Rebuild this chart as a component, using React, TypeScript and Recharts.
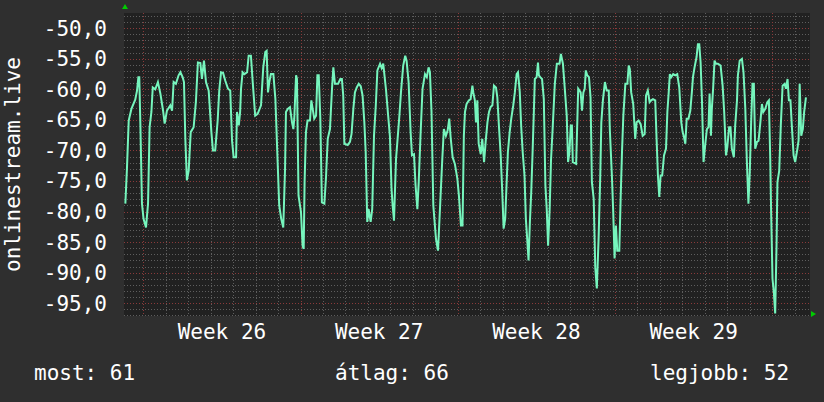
import React from 'react';
import { LineChart, Line, XAxis, YAxis, CartesianGrid, Label } from 'recharts';

// x = days since the start of week 26, y = signal level
const WEEK_LABELS = ['Week 26', 'Week 27', 'Week 28', 'Week 29'];
const WEEK_MIDS = [3.5, 10.5, 17.5, 24.5];
const WEEK_STARTS = [0, 7, 14, 21, 28];
const Y_TICKS = [-50, -55, -60, -65, -70, -75, -80, -85, -90, -95];
const X_DOMAIN: [number, number] = [-0.86, 29.68];
const Y_DOMAIN: [number, number] = [-97.1, -47.5];
const AXIS_TITLE = 'onlinestream.live';

const STATS = [
  { label: 'most', value: 61 },
  { label: 'átlag', value: 66 },
  { label: 'legjobb', value: 52 },
];

const week25Tail: [number, number][] = [
  [-0.8, -78.7], [-0.73, -73.1], [-0.65, -65.1], [-0.53, -63.2], [-0.36, -61.7], [-0.28, -60.2],
  [-0.22, -58.0], [-0.18, -58.0], [-0.13, -65.9], [-0.06, -78.7],
];

const week26: [number, number][] = [
  [0.01, -81.2], [0.12, -82.6], [0.21, -78.7], [0.28, -66.2], [0.36, -63.7], [0.42, -59.7],
  [0.53, -60.0], [0.65, -58.8], [0.76, -60.7], [0.88, -63.5], [0.95, -65.6], [1.05, -63.5],
  [1.2, -62.6], [1.28, -63.5], [1.35, -58.8], [1.45, -59.1], [1.57, -57.7], [1.65, -57.2],
  [1.75, -58.0], [1.81, -58.8], [1.87, -68.1], [1.94, -74.9], [2.02, -73.3], [2.11, -67.0],
  [2.24, -66.2], [2.34, -62.1], [2.43, -55.6], [2.54, -55.7], [2.61, -58.3], [2.7, -55.3],
  [2.79, -58.8], [2.91, -60.2], [3.03, -67.0], [3.1, -70.0], [3.2, -70.0], [3.31, -65.1],
  [3.38, -60.2], [3.46, -57.2], [3.55, -57.3], [3.65, -58.6], [3.77, -59.9], [3.87, -60.2],
  [3.95, -68.4], [4.02, -71.1], [4.13, -71.1], [4.17, -63.7], [4.25, -65.9], [4.31, -63.7],
  [4.35, -59.9], [4.42, -57.2], [4.5, -57.5], [4.62, -57.2], [4.69, -54.5], [4.79, -54.5],
  [4.87, -58.8], [4.98, -64.3], [5.09, -64.0], [5.24, -62.6], [5.34, -56.4], [5.43, -53.9],
  [5.49, -53.7], [5.55, -60.5], [5.61, -58.8], [5.68, -57.5], [5.79, -57.5], [5.88, -61.6],
  [5.98, -71.9], [6.05, -79.0], [6.14, -81.2], [6.23, -82.6], [6.31, -73.0], [6.35, -63.7],
  [6.43, -63.2], [6.53, -62.9], [6.62, -65.4], [6.68, -66.5], [6.72, -64.8], [6.8, -57.7],
  [6.84, -58.3], [6.91, -77.4],
];

const week27: [number, number][] = [
  [7.02, -80.1], [7.09, -85.6], [7.14, -86.1], [7.18, -75.2], [7.24, -67.0], [7.31, -65.1],
  [7.42, -65.1], [7.48, -61.8], [7.54, -63.2], [7.61, -64.8], [7.69, -64.3], [7.75, -57.7],
  [7.81, -57.7], [7.88, -64.8], [7.95, -78.5], [8.06, -78.7], [8.13, -74.6], [8.21, -68.1],
  [8.31, -66.5], [8.4, -59.9], [8.46, -56.4], [8.53, -59.1], [8.67, -59.1], [8.77, -58.3],
  [8.84, -58.3], [8.9, -61.0], [8.95, -68.9], [9.1, -69.1], [9.2, -68.6], [9.27, -67.3],
  [9.35, -63.2], [9.42, -60.5], [9.5, -59.7], [9.59, -59.1], [9.68, -59.5], [9.76, -61.0],
  [9.84, -65.4], [9.9, -70.3], [9.97, -81.7], [10.03, -79.6], [10.12, -81.7], [10.19, -79.6],
  [10.27, -67.6], [10.35, -62.6], [10.42, -56.9], [10.54, -55.8], [10.61, -56.5], [10.68, -55.8],
  [10.8, -59.9], [10.9, -64.3], [10.98, -67.8], [11.05, -76.3], [11.1, -79.0], [11.16, -81.5],
  [11.25, -71.4], [11.32, -68.1], [11.4, -64.3], [11.47, -60.5], [11.57, -56.1], [11.66, -54.5],
  [11.72, -55.3], [11.81, -58.8], [11.9, -67.0], [11.96, -70.8], [12.05, -70.6], [12.12, -75.7],
  [12.2, -79.6], [12.26, -75.2], [12.34, -67.6], [12.43, -59.9], [12.54, -57.5], [12.62, -58.0],
  [12.7, -56.4], [12.76, -57.2], [12.83, -63.7], [12.91, -79.0], [13.03, -84.5], [13.12, -86.4],
  [13.21, -79.3], [13.31, -71.4], [13.38, -66.5], [13.47, -67.6], [13.55, -66.7], [13.62, -64.8],
  [13.68, -67.8], [13.77, -71.1], [13.87, -72.2], [13.98, -74.6],
];

const week28: [number, number][] = [
  [14.05, -77.4], [14.14, -82.3], [14.21, -82.3], [14.27, -67.6], [14.32, -63.7], [14.39, -62.4],
  [14.49, -61.8], [14.57, -61.6], [14.65, -59.4], [14.69, -60.5], [14.76, -61.8], [14.81, -65.4],
  [14.87, -61.8], [14.93, -68.9], [15.02, -70.6], [15.09, -68.1], [15.17, -71.9], [15.24, -68.6],
  [15.32, -65.4], [15.39, -63.7], [15.46, -62.9], [15.54, -62.6], [15.61, -59.4], [15.7, -59.7],
  [15.76, -61.3], [15.83, -65.9], [15.91, -70.8], [15.98, -76.8], [16.04, -82.8], [16.11, -81.2],
  [16.17, -75.7], [16.23, -70.3], [16.31, -67.0], [16.38, -64.8], [16.47, -62.6], [16.54, -60.5],
  [16.62, -57.5], [16.68, -57.2], [16.76, -60.5], [16.82, -65.9], [16.89, -70.3], [16.97, -74.1],
  [17.03, -81.2], [17.09, -84.5], [17.15, -88.0], [17.21, -81.7], [17.27, -76.8], [17.33, -70.3],
  [17.39, -63.2], [17.43, -58.3], [17.51, -58.0], [17.57, -55.6], [17.61, -57.7], [17.67, -58.0],
  [17.75, -58.3], [17.83, -61.6], [17.9, -75.7], [17.96, -79.6], [18.02, -85.6], [18.09, -79.6],
  [18.15, -71.6], [18.23, -65.9], [18.32, -59.1], [18.41, -55.8], [18.53, -55.8], [18.59, -54.2],
  [18.68, -55.8], [18.76, -59.7], [18.85, -64.3], [18.91, -71.9], [18.97, -70.3], [19.03, -65.9],
  [19.08, -65.9], [19.12, -71.9], [19.27, -72.2], [19.36, -59.9], [19.47, -60.5], [19.53, -63.5],
  [19.59, -60.5], [19.65, -59.9], [19.7, -56.9], [19.76, -57.7], [19.84, -58.0], [19.91, -61.3],
  [19.97, -75.2], [20.05, -77.9], [20.12, -89.1], [20.19, -92.6], [20.27, -84.2], [20.34, -74.6],
  [20.39, -65.4], [20.46, -61.8], [20.55, -58.8], [20.63, -60.2], [20.72, -60.2], [20.77, -66.7],
  [20.86, -74.1], [20.92, -80.1], [20.98, -87.7],
];

const week29: [number, number][] = [
  [21.04, -82.3], [21.1, -86.4], [21.19, -86.4], [21.25, -77.9], [21.31, -70.3], [21.37, -64.3],
  [21.46, -59.1], [21.55, -59.1], [21.61, -56.1], [21.66, -56.7], [21.72, -60.5], [21.81, -62.4],
  [21.9, -68.1], [21.96, -65.4], [22.05, -65.1], [22.14, -65.7], [22.23, -67.6], [22.32, -67.3],
  [22.38, -61.0], [22.46, -60.2], [22.54, -62.1], [22.61, -61.8], [22.69, -61.6], [22.79, -61.8],
  [22.85, -68.1], [22.91, -74.1], [22.97, -77.6], [23.03, -74.1], [23.1, -74.1], [23.18, -70.8],
  [23.27, -69.7], [23.33, -63.7], [23.39, -60.5], [23.44, -57.5], [23.5, -58.0], [23.59, -57.5],
  [23.68, -57.7], [23.77, -57.5], [23.86, -59.7], [23.95, -65.4], [24.01, -67.0], [24.07, -67.8],
  [24.13, -68.9], [24.19, -64.8], [24.27, -64.8], [24.35, -63.5], [24.42, -60.5], [24.47, -58.0],
  [24.54, -56.4], [24.63, -54.7], [24.69, -52.6], [24.75, -52.6], [24.81, -55.6], [24.87, -61.8],
  [24.94, -71.9], [25.02, -68.9], [25.09, -66.5], [25.16, -66.2], [25.21, -60.7], [25.27, -67.6],
  [25.31, -63.2], [25.37, -59.7], [25.43, -55.3], [25.49, -55.8], [25.58, -55.8], [25.7, -56.1],
  [25.79, -59.4], [25.86, -63.7], [25.94, -70.8], [26.0, -69.4], [26.08, -66.2], [26.14, -66.2],
  [26.2, -69.7], [26.29, -71.1], [26.35, -65.9], [26.43, -61.8], [26.47, -57.7], [26.55, -55.3],
  [26.65, -55.0], [26.72, -57.2], [26.8, -63.2], [26.87, -71.9], [26.94, -78.7], [27.0, -73.5],
  [27.06, -65.4], [27.12, -59.1], [27.18, -59.1], [27.24, -69.7], [27.32, -68.6], [27.39, -68.4],
  [27.47, -65.4], [27.54, -62.4], [27.6, -63.7], [27.69, -63.2], [27.78, -62.1], [27.85, -61.8],
  [27.91, -71.4], [27.95, -80.1],
];

const week30Head: [number, number][] = [
  [28.01, -91.0], [28.07, -93.2], [28.13, -96.7], [28.19, -85.6], [28.23, -75.2], [28.31, -73.3],
  [28.38, -65.9], [28.46, -59.4], [28.55, -59.1], [28.61, -59.9], [28.68, -58.3], [28.74, -61.8],
  [28.81, -61.8], [28.87, -65.9], [28.95, -70.8], [29.02, -71.9], [29.12, -69.7], [29.17, -68.4],
  [29.22, -59.1], [29.29, -67.6], [29.36, -66.5], [29.42, -63.7], [29.5, -61.3],
];

const data = [...week25Tail, ...week26, ...week27, ...week28, ...week29, ...week30Head].map(
  ([t, v]) => ({ t, v })
);

const MINOR_DAYS: number[] = [];
for (let d = 0; d <= 29; d++) if (d % 7 !== 0) MINOR_DAYS.push(d);
const MINOR_LEVELS: number[] = [];
for (let l = -48; l >= -97; l--) if (l % 5 !== 0) MINOR_LEVELS.push(l);

const BG = '#2f2f2f';
const PLOT_BG = '#212121';
const MINOR = '#5e5e5e';
const MAJOR = '#8a3a3a';
const LINE = '#76f5bd';
const ARROW = '#00cc00';
const FONT = '"DejaVu Sans Mono", monospace';

// grid positions go through the plot's own linear mapping of the axis domains
const mapX = (offset: any, vals: number[]) =>
  vals.map((d) => Math.round(offset.left + ((d - X_DOMAIN[0]) / (X_DOMAIN[1] - X_DOMAIN[0])) * offset.width) + 0.5);
const mapY = (offset: any, vals: number[]) =>
  vals.map((l) => Math.round(offset.top + ((Y_DOMAIN[1] - l) / (Y_DOMAIN[1] - Y_DOMAIN[0])) * offset.height) + 0.5);

const weekName = (v: number) => WEEK_LABELS[WEEK_MIDS.indexOf(v)] ?? '';
const levelName = (v: number) => v.toFixed(1).replace('.', ',');

export default function App() {
  return (
    <div style={{ position: 'absolute', left: 0, top: 0, width: 824, height: 402, background: BG }}>
      <LineChart width={824} height={402} data={data} margin={{ top: 13, right: 14, bottom: 0, left: 0 }}>
        <CartesianGrid horizontal={false} vertical={false} fill={PLOT_BG} />
        <CartesianGrid
          stroke={MINOR}
          strokeDasharray="1 2"
          verticalCoordinatesGenerator={({ offset }: any) => mapX(offset, MINOR_DAYS)}
          horizontalCoordinatesGenerator={({ offset }: any) => mapY(offset, MINOR_LEVELS)}
        />
        <CartesianGrid
          stroke={MAJOR}
          strokeDasharray="1 2"
          verticalCoordinatesGenerator={({ offset }: any) => mapX(offset, WEEK_STARTS)}
          horizontalCoordinatesGenerator={({ offset }: any) => mapY(offset, Y_TICKS)}
        />
        <XAxis
          type="number"
          dataKey="t"
          domain={X_DOMAIN}
          ticks={WEEK_MIDS}
          interval={0}
          allowDataOverflow
          tickFormatter={weekName}
          tick={{ fill: '#ffffff', fontSize: 21, fontFamily: FONT }}
          tickLine={false}
          axisLine={false}
          tickSize={0}
          tickMargin={8}
          height={86}
        >
          <Label
            content={({ viewBox }: any) => {
              const ex = viewBox.x + viewBox.width;
              const ey = viewBox.y - 2;
              return <polygon points={`${ex + 6},${ey} ${ex + 1},${ey - 3} ${ex + 1},${ey + 3}`} fill={ARROW} />;
            }}
          />
        </XAxis>
        <YAxis
          type="number"
          domain={Y_DOMAIN}
          ticks={Y_TICKS}
          interval={0}
          allowDataOverflow
          tickFormatter={levelName}
          tick={{ fill: '#ffffff', fontSize: 21, fontFamily: FONT }}
          tickLine={false}
          axisLine={false}
          tickSize={0}
          tickMargin={17}
          width={124}
        >
          <Label
            content={({ viewBox }: any) => {
              const ax = viewBox.x + viewBox.width + 1;
              const ay = viewBox.y - 4;
              const cy = viewBox.y + viewBox.height / 2;
              return (
                <g>
                  <text
                    x={20}
                    y={cy}
                    transform={`rotate(-90, 20, ${cy})`}
                    textAnchor="middle"
                    fill="#ffffff"
                    fontSize={21}
                    fontFamily={FONT}
                  >
                    {AXIS_TITLE}
                  </text>
                  <polygon points={`${ax},${ay - 5} ${ax - 3},${ay} ${ax + 3},${ay}`} fill={ARROW} />
                </g>
              );
            }}
          />
        </YAxis>
        <Line
          type="linear"
          dataKey="v"
          stroke={LINE}
          strokeWidth={2}
          dot={false}
          isAnimationActive={false}
        />
      </LineChart>
      <svg width={824} height={402} style={{ position: 'absolute', left: 0, top: 0, pointerEvents: 'none' }}>
        {STATS.map((s, i) => (
          <text
            key={s.label}
            x={[34, 335, 650][i]}
            y={380}
            fill="#ffffff"
            fontSize={21}
            fontFamily={FONT}
          >
            {`${s.label}: ${s.value}`}
          </text>
        ))}
      </svg>
    </div>
  );
}
